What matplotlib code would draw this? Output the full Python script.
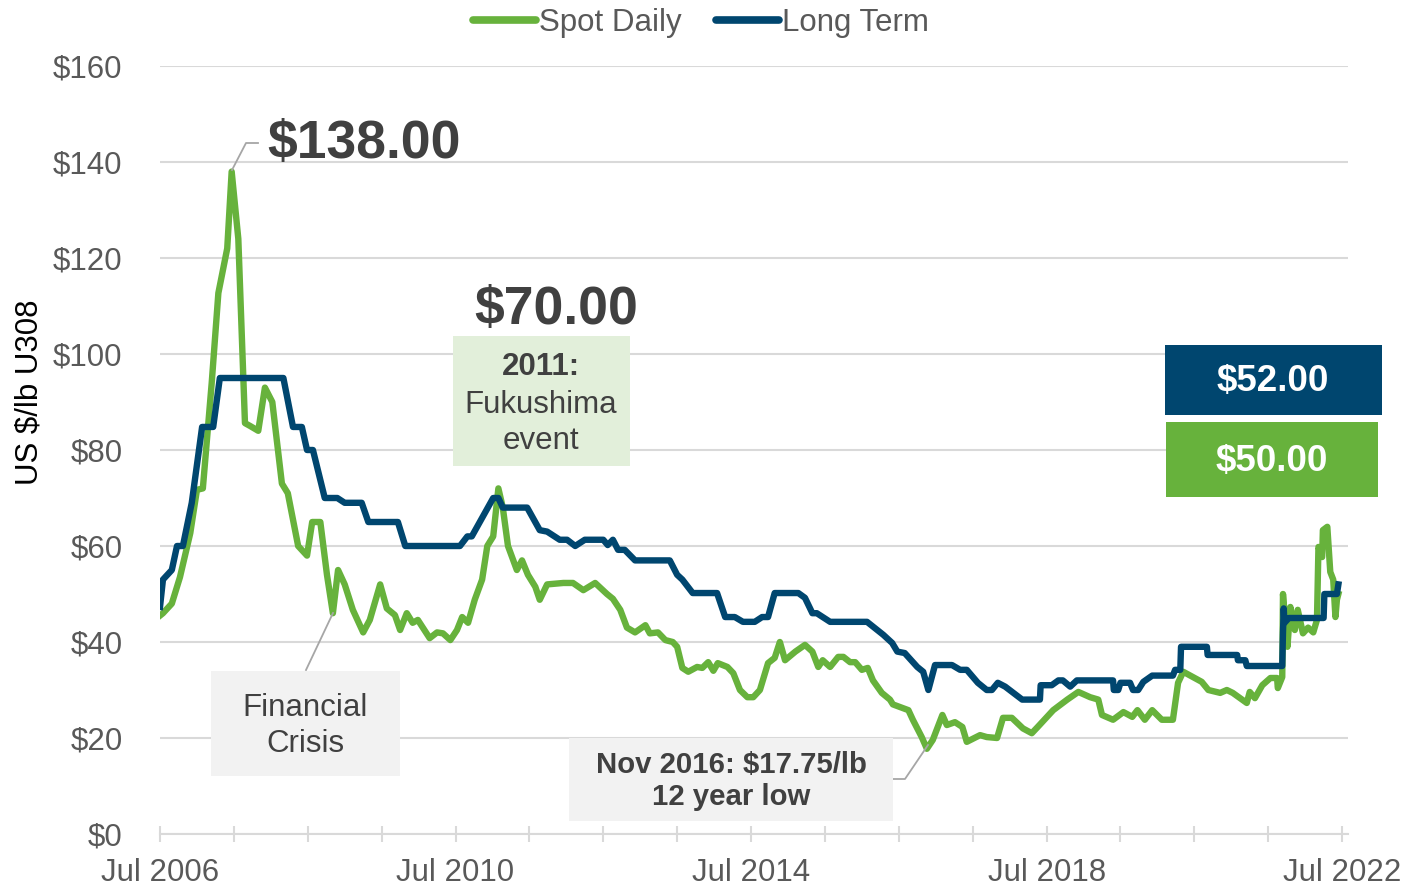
import matplotlib
matplotlib.use("Agg")
import matplotlib.pyplot as plt
from matplotlib.patches import Rectangle
from matplotlib.lines import Line2D
from matplotlib.ticker import FuncFormatter, MultipleLocator
import numpy as np

plt.rcParams['font.family'] = ['Liberation Sans', 'DejaVu Sans']

# uranium price, decimal years, US$/lb
spot_t = [2006.50, 2006.54, 2006.66, 2006.77, 2006.91, 2007.00, 2007.08, 2007.20, 2007.29, 2007.41,
          2007.47, 2007.56, 2007.65, 2007.72, 2007.83, 2007.92, 2008.02, 2008.15, 2008.23, 2008.37,
          2008.49, 2008.56, 2008.67, 2008.76, 2008.84, 2008.91, 2009.00, 2009.11, 2009.25, 2009.34,
          2009.48, 2009.57, 2009.68, 2009.75, 2009.84, 2009.92, 2009.99, 2010.15, 2010.25, 2010.33,
          2010.43, 2010.52, 2010.59, 2010.67, 2010.76, 2010.86, 2010.93, 2011.01, 2011.08, 2011.14,
          2011.21, 2011.33, 2011.40, 2011.48, 2011.58, 2011.64, 2011.74, 2011.96, 2012.09, 2012.23,
          2012.39, 2012.55, 2012.63, 2012.73, 2012.82, 2012.93, 2013.07, 2013.13, 2013.24, 2013.34,
          2013.44, 2013.50, 2013.57, 2013.65, 2013.77, 2013.84, 2013.92, 2013.99, 2014.05, 2014.18,
          2014.26, 2014.35, 2014.45, 2014.53, 2014.62, 2014.73, 2014.82, 2014.89, 2014.96, 2015.10,
          2015.23, 2015.33, 2015.41, 2015.47, 2015.57, 2015.68, 2015.75, 2015.84, 2015.91, 2016.00,
          2016.08, 2016.15, 2016.27, 2016.38, 2016.42, 2016.63, 2016.69, 2016.81, 2016.88, 2016.96,
          2017.09, 2017.15, 2017.26, 2017.36, 2017.42, 2017.60, 2017.69, 2017.83, 2017.91, 2018.03,
          2018.18, 2018.30, 2018.38, 2018.59, 2018.78, 2018.93, 2019.09, 2019.20, 2019.25, 2019.40,
          2019.54, 2019.66, 2019.73, 2019.83, 2019.93, 2020.06, 2020.21, 2020.28, 2020.35, 2020.48,
          2020.60, 2020.69, 2020.85, 2020.94, 2021.02, 2021.12, 2021.21, 2021.25, 2021.32, 2021.42,
          2021.53, 2021.62, 2021.63, 2021.69, 2021.70, 2021.76, 2021.80, 2021.86, 2021.90, 2021.97,
          2022.04, 2022.11, 2022.16, 2022.18, 2022.23, 2022.24, 2022.30, 2022.34, 2022.38, 2022.41,
          2022.43, 2022.45]
spot_v = [45.5, 46, 48, 53.5, 62.7, 71.7, 72, 94, 112.7, 122,
          138, 124, 85.6, 85, 84, 93, 90, 73, 71, 60,
          58, 65, 65, 54, 46, 55, 52, 46.7, 42, 44.6,
          52, 47, 45.6, 42.5, 46, 44, 44.6, 40.8, 42, 41.8,
          40.4, 42.5, 45.2, 44, 48.8, 53, 60, 62, 72, 68,
          60, 55, 57, 54, 51.5, 48.8, 52, 52.3, 52.3, 50.8,
          52.3, 50, 49, 46.7, 43, 42, 43.5, 41.8, 42, 40.4,
          40, 39, 34.6, 33.8, 34.8, 34.6, 35.8, 34, 35.6, 34.8,
          33.5, 30, 28.5, 28.5, 30, 35.6, 36.7, 40, 36.2, 38,
          39.4, 38, 34.8, 36.2, 34.8, 36.9, 36.9, 35.8, 35.8, 34.2,
          34.6, 32, 29.4, 28, 27, 25.8, 23.8, 20.2, 17.75, 19.6,
          24.8, 22.7, 23.3, 22.3, 19.2, 20.6, 20.2, 20, 24.2, 24.2,
          22, 21, 22.3, 25.8, 28, 29.6, 28.5, 28, 24.8, 23.8,
          25.4, 24.4, 25.8, 23.8, 25.8, 23.8, 23.8, 31.5, 33.8, 32.7,
          31.7, 30, 29.4, 30, 29.4, 28.3, 27.3, 29.6, 28.3, 31,
          32.5, 32.5, 30.4, 32.7, 50, 39, 47.3, 42.5, 46.7, 41.8,
          43, 42, 44.6, 59.8, 57.7, 63.3, 64, 54.6, 53, 45.2,
          48.8, 50]

long_t = [2006.50, 2006.54, 2006.66, 2006.73, 2006.81, 2006.93, 2007.07, 2007.22, 2007.31, 2008.17,
          2008.30, 2008.42, 2008.49, 2008.57, 2008.73, 2008.90, 2009.00, 2009.23, 2009.32, 2009.72,
          2009.82, 2010.56, 2010.66, 2010.72, 2011.01, 2011.08, 2011.14, 2011.47, 2011.64, 2011.74,
          2011.91, 2012.01, 2012.12, 2012.25, 2012.50, 2012.56, 2012.63, 2012.70, 2012.79, 2012.93,
          2013.40, 2013.50, 2013.57, 2013.71, 2014.04, 2014.15, 2014.28, 2014.39, 2014.55, 2014.65,
          2014.73, 2014.82, 2015.14, 2015.23, 2015.33, 2015.39, 2015.57, 2016.07, 2016.29, 2016.41,
          2016.48, 2016.58, 2016.75, 2016.83, 2016.90, 2016.99, 2017.22, 2017.33, 2017.42, 2017.57,
          2017.69, 2017.76, 2017.84, 2017.94, 2018.17, 2018.41, 2018.42, 2018.57, 2018.66, 2018.72,
          2018.82, 2018.91, 2019.40, 2019.41, 2019.47, 2019.50, 2019.63, 2019.67, 2019.74, 2019.81,
          2019.93, 2020.21, 2020.24, 2020.31, 2020.32, 2020.67, 2020.68, 2021.08, 2021.09, 2021.19,
          2021.21, 2021.69, 2021.70, 2021.71, 2021.72, 2021.78, 2022.25, 2022.26, 2022.43, 2022.45]
long_v = [47.3, 53, 55, 60, 60, 69, 84.8, 84.8, 95, 95,
          84.8, 84.8, 80, 80, 70, 70, 69, 69, 65, 65,
          60, 60, 62, 62, 70, 70, 68, 68, 63.3, 63,
          61.3, 61.3, 60, 61.3, 61.3, 60.2, 61.3, 59.2, 59.2, 57,
          57, 54, 53, 50.2, 50.2, 45.2, 45.2, 44.2, 44.2, 45.2,
          45.2, 50.2, 50.2, 49.2, 46, 46, 44.2, 44.2, 41.5, 39.8,
          38, 37.7, 34.8, 33.8, 30, 35.2, 35.2, 34.2, 34.2, 31.5,
          30, 30, 31.5, 30.7, 28, 28, 31, 31, 32, 32,
          30.7, 32, 32, 30, 30, 31.5, 31.5, 30, 30, 31.7,
          33, 33, 34.2, 34.2, 39, 39, 37.3, 37.3, 36.2, 36.2,
          35, 35, 42, 47, 44, 45, 45, 50, 50, 52]

tick_years = [2006.5, 2010.5, 2014.5, 2018.5, 2022.5]
tick_labels = ["Jul 2006", "Jul 2010", "Jul 2014", "Jul 2018", "Jul 2022"]

GREEN = "#67B23C"
BLUE = "#00466F"
GREY_TXT = "#595959"
DARK_TXT = "#404040"

W, H = 1406, 889
fig = plt.figure(figsize=(W / 100, H / 100), dpi=100)
ax = fig.add_axes([160 / W, 1 - 834 / H, (1348 - 160) / W, 768 / H])


def fx(px):
    return px / W


def fy(py):
    return 1 - py / H


ax.plot(spot_t, spot_v, color=GREEN, lw=4.6, solid_joinstyle="round", zorder=3)
ax.plot(long_t, long_v, color=BLUE, lw=4.6, solid_joinstyle="round", zorder=4)

ax.set_xlim(2006.5, 2022.58)
ax.set_ylim(0, 160)
ax.yaxis.set_major_locator(MultipleLocator(20))
ax.yaxis.set_major_formatter(FuncFormatter(lambda v, p: "${:.0f}".format(v)))
ax.set_xticks(tick_years)
ax.set_xticklabels(tick_labels)
ax.set_xticks(np.arange(2007.5, 2022.5, 1.0), minor=True)

ax.grid(axis="y", color="#D9D9D9", lw=1.5)
ax.set_axisbelow(True)
for s in ["top", "right", "left"]:
    ax.spines[s].set_visible(False)
ax.spines["bottom"].set_color("#D9D9D9")
ax.spines["bottom"].set_linewidth(1.5)
ax.tick_params(axis="y", length=0, labelsize=22.5, labelcolor=GREY_TXT, pad=27)
ax.tick_params(axis="x", which="both", direction="inout", length=12, width=1.5,
               color="#D9D9D9", labelsize=22.5, labelcolor=GREY_TXT, pad=11)

fig.text(fx(30), fy(392), "US $/lb U308", rotation=90, fontsize=22.5, color="black",
         ha="center", va="center")

# legend
handles = [Line2D([], [], color=GREEN, lw=5.5, solid_capstyle="round"),
           Line2D([], [], color=BLUE, lw=5.5, solid_capstyle="round")]
fig.legend(handles, ["Spot Daily", "Long Term"], loc="center", bbox_to_anchor=(fx(701), fy(23)),
           ncol=2, frameon=False, fontsize=22.5, labelcolor=GREY_TXT, handlelength=2.0,
           handletextpad=0.1, columnspacing=1.1)


def box(x0, y0, x1, y1, color):
    fig.add_artist(Rectangle((fx(x0), fy(y1)), fx(x1) - fx(x0), fy(y0) - fy(y1),
                             transform=fig.transFigure, facecolor=color, edgecolor="none",
                             zorder=5))


def leader(pts):
    fig.add_artist(Line2D([fx(p[0]) for p in pts], [fy(p[1]) for p in pts],
                          transform=fig.transFigure, color="#A6A6A6", lw=1.3, zorder=2))


# peak annotation
leader([(232, 170), (246, 143), (258, 143)])
fig.text(fx(267), fy(144), "$138.00", fontsize=38.5, fontweight="bold", color=DARK_TXT,
         ha="left", va="center")

# Fukushima
fig.text(fx(556), fy(310), "$70.00", fontsize=38.5, fontweight="bold", color=DARK_TXT,
         ha="center", va="center")
box(453, 336, 630, 466, "#E2EFDA")
fig.text(fx(541), fy(367), "2011:", fontsize=22.5, fontweight="bold", color=DARK_TXT,
         ha="center", va="center", zorder=6)
fig.text(fx(541), fy(423), "Fukushima\nevent", fontsize=22.5, color=DARK_TXT,
         ha="center", va="center", linespacing=1.25, zorder=6)

# financial crisis
leader([(333, 613), (306, 670)])
box(211, 671, 400, 776, "#F2F2F2")
fig.text(fx(305), fy(726), "Financial\nCrisis", fontsize=22.5, color=DARK_TXT,
         ha="center", va="center", linespacing=1.25, zorder=6)

# 2016 low
leader([(928, 745), (905, 779), (893, 779)])
box(569, 738, 893, 821, "#F2F2F2")
fig.text(fx(731), fy(781), "Nov 2016: $17.75/lb\n12 year low", fontsize=21.2, fontweight="bold",
         color=DARK_TXT, ha="center", va="center", linespacing=1.18, zorder=6)

# current value labels
box(1165, 345, 1382, 415, BLUE)
fig.text(fx(1273), fy(382), "$52.00", fontsize=26.5, fontweight="bold", color="white",
         ha="center", va="center", zorder=6)
box(1166, 422, 1378, 497, GREEN)
fig.text(fx(1272), fy(461), "$50.00", fontsize=26.5, fontweight="bold", color="white",
         ha="center", va="center", zorder=6)

fig.savefig("out.png", dpi=100)
